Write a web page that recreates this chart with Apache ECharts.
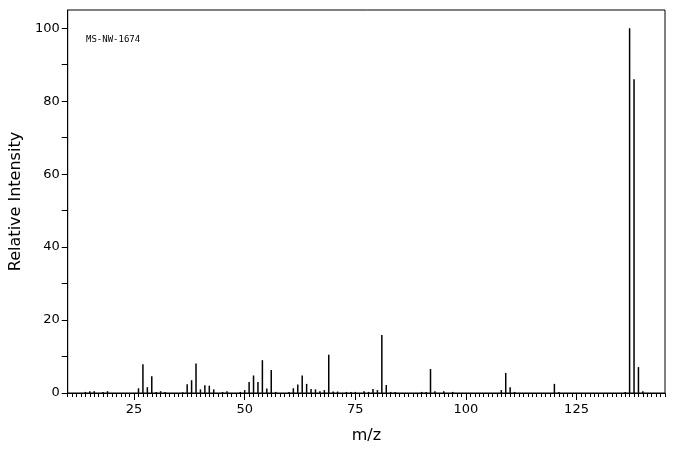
<!DOCTYPE html><html><head><meta charset="utf-8"><script src="https://cdn.jsdelivr.net/npm/echarts@6/dist/echarts.min.js"></script></head><body style="margin:0"><div id="c" style="width:676px;height:455px"></div><script>
const mz=[14,15,16,18,19,26,27,28,29,30,31,32,36,37,38,39,40,41,42,43,45,46,49,50,51,52,53,54,55,56,57,60,61,62,63,64,65,66,67,68,69,70,71,73,74,75,77,78,79,80,81,82,83,84,90,91,92,93,95,97,108,109,110,111,120,121,136,137,138,139,140];
const inten=[0.3,0.5,0.5,0.3,0.5,1.3,7.9,1.6,4.6,0.3,0.5,0.3,0.2,2.4,3.5,8.1,1.0,2.1,2.0,1.0,0.3,0.5,0.3,0.8,3.0,4.8,3.0,9.0,1.2,6.3,0.3,0.3,1.3,2.3,4.8,2.5,1.1,1.0,0.5,0.8,10.5,0.4,0.4,0.3,0.3,0.3,0.5,0.3,1.1,0.8,15.9,2.2,0.3,0.3,0.3,0.3,6.6,0.5,0.5,0.3,0.8,5.5,1.6,0.3,2.5,0.3,0.3,100,86,7.1,0.5];
const xLabels=[25,50,75,100,125];
const yLabels=[0,20,40,60,80,100];
const minor=[];for(let i=10;i<=145;i++)minor.push(i);
const yt=[];for(let i=0;i<=100;i+=10)yt.push(i);
const ch=echarts.init(document.getElementById('c'));
const f='DejaVu Sans';
ch.setOption({animation:false,
grid:{left:62,right:11,top:10,bottom:62,show:true,borderColor:'#000',borderWidth:1},
xAxis:[{type:'value',min:10,max:145,axisLine:{show:true,onZero:false,lineStyle:{color:'#000'}},splitLine:{show:false},
axisTick:{show:true,customValues:minor,length:4,lineStyle:{color:'#000'}},axisLabel:{show:false}},
{type:'value',min:10,max:145,position:'bottom',axisLine:{show:false},splitLine:{show:false},
axisTick:{show:true,customValues:xLabels,length:7,lineStyle:{color:'#000'}},
axisLabel:{customValues:xLabels,color:'#000',fontFamily:f,fontSize:13,margin:10},
name:'m/z',nameLocation:'middle',nameGap:35,nameTextStyle:{color:'#000',fontFamily:f,fontSize:16}}],
yAxis:{type:'value',min:0,max:105,axisLine:{show:true,lineStyle:{color:'#000'}},splitLine:{show:false},
axisTick:{show:true,customValues:yt,length:6,lineStyle:{color:'#000'}},
axisLabel:{customValues:yLabels,color:'#000',fontFamily:f,fontSize:13,margin:8},
name:'Relative Intensity',nameLocation:'middle',nameGap:38,nameTextStyle:{color:'#000',fontFamily:f,fontSize:16}},
graphic:[{type:'text',left:86,top:35,style:{text:'MS-NW-1674',fill:'#000',font:'9px "DejaVu Sans Mono"'}}],
series:[{type:'bar',barWidth:1.5,itemStyle:{color:'#000'},data:mz.map((m,i)=>[m,inten[i]])}]
});
</script></body></html>
